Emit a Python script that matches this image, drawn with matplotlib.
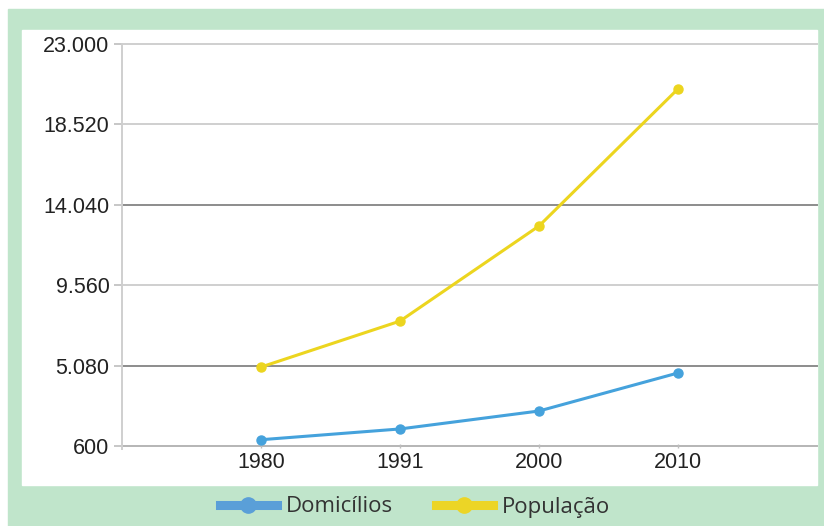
import matplotlib.pyplot as plt
from matplotlib.patches import Rectangle
from matplotlib.lines import Line2D

years = ['1980', '1991', '2000', '2010']
domicilios = [950, 1550, 2550, 4670]
populacao = [5000, 7560, 12860, 20500]
yticks = [600, 5080, 9560, 14040, 18520, 23000]
ytick_labels = ['600', '5.080', '9.560', '14.040', '18.520', '23.000']

W, H = 824, 526
fig = plt.figure(figsize=(W / 100, H / 100), dpi=100)
fig.patch.set_facecolor('white')

# moldura verde e painel branco
fig.patches.append(Rectangle((8 / W, 0), (W - 8) / W, (H - 9) / H,
                             transform=fig.transFigure, color='#c0e5cb', zorder=-2))
fig.patches.append(Rectangle((22 / W, 41 / H), (817 - 22) / W, (485 - 30) / H,
                             transform=fig.transFigure, color='white', zorder=-1))

ax = fig.add_axes([122 / W, 80 / H, (817 - 122) / W, (482 - 80) / H])
ax.set_facecolor('none')

x = list(range(1, len(years) + 1))
ax.plot(x, domicilios, color='#45a2dc', lw=2.2, marker='o', ms=6.5, zorder=3)
ax.plot(x, populacao, color='#ecd51f', lw=2.2, marker='o', ms=6.5, zorder=3)

ax.set_xlim(0, 5)
ax.set_ylim(600, 23000)
ax.set_xticks(x)
ax.set_xticklabels(years)
ax.set_yticks(yticks)
ax.set_yticklabels(ytick_labels)

grid_colors = ['#b5b5b5', '#8c8c8c', '#cfcfcf', '#8c8c8c', '#cfcfcf', '#cfcfcf']
for v, c in zip(yticks, grid_colors):
    ax.axhline(v, color=c, lw=1.4, zorder=1, clip_on=False)

for s in ['top', 'right', 'bottom']:
    ax.spines[s].set_visible(False)
ax.spines['left'].set_color('#cfcfcf')
ax.spines['left'].set_linewidth(1.4)
ax.spines['left'].set_bounds(600 - 150, 23000)

ax.tick_params(axis='y', length=6, width=1.2, color='#bdbdbd', pad=3,
               labelsize=15.5, labelcolor='#222222')
ax.tick_params(axis='x', length=3, width=1, color='#bdbdbd', pad=3,
               labelsize=15.5, labelcolor='#222222', direction='inout')
for lab in ax.get_xticklabels() + ax.get_yticklabels():
    lab.set_family('Liberation Sans')

handles = [
    Line2D([], [], color='#5a9fd8', lw=6.5, marker='o', ms=11),
    Line2D([], [], color='#ecd526', lw=6.5, marker='o', ms=11),
]
fig.legend(handles, ['Domicílios', 'População'], loc='center',
           bbox_to_anchor=(415 / W, (H - 507) / H), ncol=2, frameon=False,
           handlelength=2.6, handletextpad=0.4, columnspacing=1.9,
           prop={'family': 'Open Sans', 'size': 16}, labelcolor='#333333')

fig.savefig('out.png', dpi=100)
